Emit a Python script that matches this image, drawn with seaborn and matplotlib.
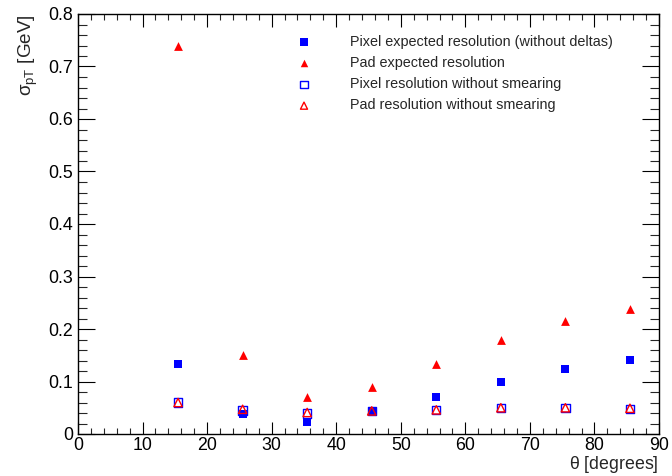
import numpy as np
import pandas as pd
import matplotlib
matplotlib.use("Agg")
import matplotlib.pyplot as plt
from matplotlib.ticker import MultipleLocator, FuncFormatter
import seaborn as sns

theta = [15.5, 25.5, 35.5, 45.5, 55.5, 65.5, 75.5, 85.5]
pixel_expected = [0.134, 0.038, 0.022, 0.044, 0.071, 0.100, 0.124, 0.141]
pad_expected = [0.739, 0.151, 0.070, 0.090, 0.134, 0.179, 0.215, 0.238]
pixel_nosmear = [0.060, 0.045, 0.039, 0.044, 0.046, 0.0495, 0.050, 0.0476]
pad_nosmear = [0.060, 0.047, 0.041, 0.044, 0.046, 0.050, 0.050, 0.049]

labels = ["Pixel expected resolution (without deltas)",
          "Pad expected resolution",
          "Pixel resolution without smearing",
          "Pad resolution without smearing"]

sns.set_theme(style="white")
plt.rcParams['font.family'] = ['Liberation Sans', 'DejaVu Sans']
plt.rcParams['mathtext.fontset'] = 'custom'
plt.rcParams['mathtext.rm'] = 'Liberation Sans'
plt.rcParams['mathtext.it'] = 'Liberation Sans'

fig = plt.figure(figsize=(6.72, 4.76), dpi=100)
ax = fig.add_axes([78/672, 42/476, 581/672, 420/476])

ms = 40
sns.scatterplot(x=theta, y=pixel_expected, marker='s', color='blue', s=ms,
                linewidth=0, ax=ax, label=labels[0])
sns.scatterplot(x=theta, y=pad_expected, marker='^', color='red', s=ms,
                linewidth=0, ax=ax, label=labels[1])
sns.scatterplot(x=theta, y=pixel_nosmear, marker='s', s=ms*0.9,
                facecolors='none', edgecolors='blue', linewidth=1.0, ax=ax, label=labels[2])
sns.scatterplot(x=theta, y=pad_nosmear, marker='^', s=ms*0.9,
                facecolors='none', edgecolors='red', linewidth=1.0, ax=ax, label=labels[3])

ax.set_xlim(0, 90)
ax.set_ylim(0, 0.8)
ax.xaxis.set_major_locator(MultipleLocator(10))
ax.xaxis.set_minor_locator(MultipleLocator(2))
ax.yaxis.set_major_locator(MultipleLocator(0.1))
ax.yaxis.set_minor_locator(MultipleLocator(0.02))
ax.yaxis.set_major_formatter(FuncFormatter(lambda v, p: "0" if abs(v) < 1e-9 else f"{v:.1f}"))
ax.xaxis.set_major_formatter(FuncFormatter(lambda v, p: f"{v:.0f}"))

for s in ax.spines.values():
    s.set_visible(True)
    s.set_color('black')
    s.set_linewidth(1.0)

fs = 12.8
ax.tick_params(axis='x', which='major', direction='in', length=9.0, width=0.8,
               top=True, bottom=True, labelsize=fs, pad=2, colors='black')
ax.tick_params(axis='x', which='minor', direction='in', length=4.5, width=0.8,
               top=True, bottom=True)
ax.tick_params(axis='y', which='major', direction='in', length=12.5, width=0.8,
               left=True, right=True, labelsize=fs, pad=3.5, colors='black')
ax.tick_params(axis='y', which='minor', direction='in', length=6.2, width=0.8,
               left=True, right=True)

ax.set_xlabel(r"$\theta$ [degrees]", fontsize=fs, loc='right', labelpad=0)
ax.set_ylabel(r"$\sigma_{\mathrm{pT}}$ [GeV]", fontsize=13.6, loc='top', labelpad=6)

leg = ax.legend(loc='upper left', bbox_to_anchor=(291/672, 1 - 29/476),
                bbox_transform=fig.transFigure, frameon=False, fontsize=10.4,
                handletextpad=2.7, labelspacing=0.5, borderaxespad=0,
                markerscale=0.85, handlelength=1.0)

fig.savefig("out.png", dpi=100, facecolor='white')
